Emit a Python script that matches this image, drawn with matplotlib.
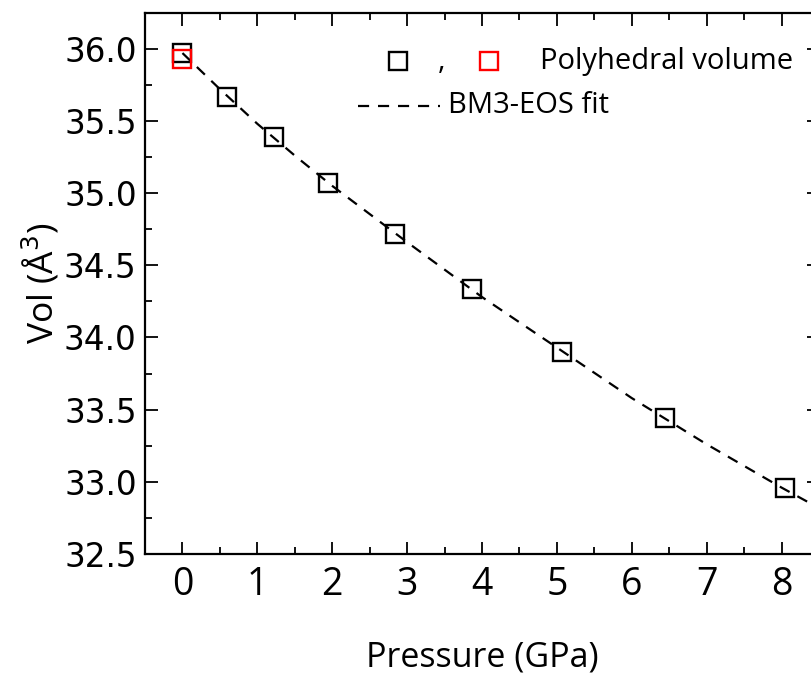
import matplotlib
matplotlib.use("Agg")
import matplotlib.pyplot as plt
from matplotlib.ticker import MultipleLocator

# Measured polyhedral volume vs pressure
pressure = [0.0, 0.595, 1.217, 1.95, 2.84, 3.87, 5.07, 6.45, 8.04]
volume = [35.97, 35.666, 35.39, 35.071, 34.72, 34.333, 33.899, 33.44, 32.954]
# first point drawn again in red
p_red = [0.0]
v_red = [35.93]

# BM3-EOS fit curve
fit_p = [0, 0.5, 1, 1.5, 2, 3, 4, 5, 6, 7, 8, 8.6]
fit_v = [35.97, 35.72, 35.48, 35.26, 35.05, 34.66, 34.28, 33.93, 33.58, 33.26, 32.96, 32.79]

xticks = [0, 1, 2, 3, 4, 5, 6, 7, 8]
yticks = [32.5, 33.0, 33.5, 34.0, 34.5, 35.0, 35.5, 36.0]

fig = plt.figure(figsize=(8.12, 6.77), dpi=100)
ax = fig.add_axes([0.1786, 0.1817, 0.830, 0.7996])

ax.plot(fit_p, fit_v, color="black", lw=1.6, ls=(0, (5, 4)), zorder=2)
ax.plot(pressure, volume, ls="none", marker="s", ms=13, mfc="none",
        mec="black", mew=1.7, zorder=3)
ax.plot(p_red, v_red, ls="none", marker="s", ms=13, mfc="none",
        mec="red", mew=1.7, zorder=4)

ax.set_xlim(-0.5, 8.5)
ax.set_ylim(32.5, 36.25)
ax.set_xticks(xticks)
ax.set_yticks(yticks)
ax.set_yticklabels(["%.1f" % v for v in yticks], fontfamily="DejaVu Sans", fontsize=23.5)
ax.set_xticklabels([str(v) for v in xticks], fontfamily="Open Sans", fontsize=27)
ax.xaxis.set_minor_locator(MultipleLocator(0.5))
ax.yaxis.set_minor_locator(MultipleLocator(0.25))
ax.tick_params(which="both", direction="in", top=True, right=True, width=1.3)
ax.tick_params(which="major", length=9)
ax.tick_params(which="minor", length=5)
ax.tick_params(axis="x", pad=9)
ax.tick_params(axis="y", pad=6)
for s in ax.spines.values():
    s.set_linewidth(1.6)

ax.set_xlabel("Pressure (GPa)", fontfamily="Open Sans", fontsize=24.5, labelpad=26)
ax.set_ylabel("Vol (Å$^3$)", fontfamily="Open Sans", fontsize=25.5, labelpad=2)

# hand-built legend
tr = ax.transAxes
y1, y2 = 0.91, 0.828
ax.plot([0.376], [y1], transform=tr, ls="none", marker="s", ms=13,
        mfc="none", mec="black", mew=1.7, clip_on=False)
ax.text(0.440, y1, ",", transform=tr, fontfamily="Open Sans", fontsize=21,
        ha="center", va="center")
ax.plot([0.511], [y1], transform=tr, ls="none", marker="s", ms=13,
        mfc="none", mec="red", mew=1.7, clip_on=False)
ax.text(0.586, y1, "Polyhedral volume", transform=tr, fontfamily="Open Sans",
        fontsize=21, ha="left", va="center")
ax.plot([0.316, 0.438], [y2, y2], transform=tr, color="black", lw=1.6,
        ls=(0, (5, 4)))
ax.text(0.450, y2, "BM3-EOS fit", transform=tr, fontfamily="Open Sans",
        fontsize=21, ha="left", va="center")

fig.savefig("out.png", dpi=100)
